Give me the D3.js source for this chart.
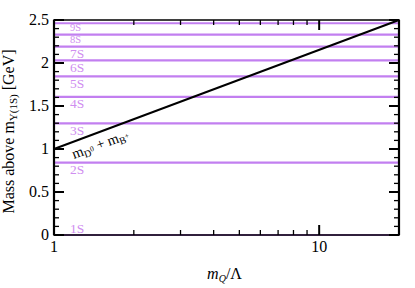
<!DOCTYPE html>
<html>
<head>
<meta charset="utf-8">
<script src="https://cdn.jsdelivr.net/npm/d3@7"></script>
<style>
  body { margin: 0; background: #fff; }
  svg text { font-family: "Liberation Serif", "DejaVu Serif", "Times New Roman", Times, serif; }
</style>
</head>
<body>
<div id="chart"></div>
<script>
// Bottomonium levels above the Upsilon(1S), GeV
var levelNames = ["1S", "2S", "3S", "4S", "5S", "6S", "7S", "8S", "9S"];
var levelMass = [0, 0.841, 1.299, 1.605, 1.845, 2.031, 2.19, 2.329, 2.462];

// Threshold line m_D0 + m_B+
var threshX = [1, 20];
var threshY = [1.0, 2.5];

var xTicks = [1, 10];
var yTicks = [0, 0.5, 1, 1.5, 2, 2.5];

var W = 415, H = 288;
var margin = {top: 20, right: 16, bottom: 53, left: 54},
    width = W - margin.left - margin.right,
    height = H - margin.top - margin.bottom;

var svg = d3.select("#chart")
  .append("svg")
    .attr("width", W)
    .attr("height", H)
    .attr("font-family", "Liberation Serif, DejaVu Serif, serif")
  .append("g")
    .attr("transform", "translate(" + margin.left + "," + margin.top + ")");

var x = d3.scaleLog().domain([1, 20]).range([0, width]);
var y = d3.scaleLinear().domain([0, 2.5]).range([height, 0]);

var purple = "#c27ff0";
var labelPurple = "#cf8ef0";

// Horizontal level lines
svg.selectAll(".level")
  .data(levelMass)
  .enter().append("line")
    .attr("class", "level")
    .attr("x1", x(1))
    .attr("x2", x(20))
    .attr("y1", function(d) { return y(d); })
    .attr("y2", function(d) { return y(d); })
    .attr("stroke", purple)
    .attr("stroke-width", 2.2);

// Level labels (smaller where the levels crowd together)
function crowded(i) {
  return i > 0 && y(levelMass[i - 1]) - y(levelMass[i]) < 13;
}
svg.selectAll(".lvlabel")
  .data(levelNames)
  .enter().append("text")
    .attr("class", "lvlabel")
    .attr("x", x(1) + 16)
    .attr("y", function(d, i) {
      if (i === 0) return y(levelMass[i]) - 2;
      return y(levelMass[i]) + (crowded(i) ? 8 : 11.5);
    })
    .attr("fill", labelPurple)
    .style("font-size", function(d, i) { return (crowded(i) ? 10.5 : 13.5) + "px"; })
    .text(function(d) { return d; });

// Threshold line
var thresh = threshX.map(function(v, i) { return {x: v, y: threshY[i]}; });
svg.append("path")
  .datum(thresh)
  .attr("fill", "none")
  .attr("stroke", "#000")
  .attr("stroke-width", 2)
  .attr("d", d3.line()
    .x(function(d) { return x(d.x); })
    .y(function(d) { return y(d.y); }));

// Threshold label, rotated along the line
var ang = Math.atan2(y(threshY[1]) - y(threshY[0]), x(threshX[1]) - x(threshX[0])) * 180 / Math.PI;
var lx = x(1) + 15, ly = y(threshY[0]) - 3;
var tl = svg.append("text")
  .attr("transform", "translate(" + lx + "," + ly + ") rotate(" + ang + ")")
  .attr("y", 14)
  .style("font-size", "14.5px")
  .attr("fill", "#000");
tl.append("tspan").text("m");
tl.append("tspan").attr("dy", 3).style("font-size", "10px").text("D");
tl.append("tspan").attr("dy", -4).style("font-size", "7.5px").text("0");
tl.append("tspan").attr("dy", 1).text(" + m");
tl.append("tspan").attr("dy", 3).style("font-size", "10px").text("B");
tl.append("tspan").attr("dy", -4).style("font-size", "7.5px").text("+");

// Frame
svg.append("rect")
  .attr("width", width)
  .attr("height", height)
  .attr("fill", "none")
  .attr("stroke", "#000")
  .attr("stroke-width", 1.5);
svg.append("line").attr("x1", 0).attr("x2", 0).attr("y1", 0).attr("y2", height)
  .attr("stroke", "#000").attr("stroke-width", 2.2);
svg.append("line").attr("x1", width).attr("x2", width).attr("y1", 0).attr("y2", height)
  .attr("stroke", "#000").attr("stroke-width", 2.2);

// Y ticks (inward, both sides)
var yMinor = d3.range(0, 2.501, 0.1);
function isMajorY(d) { return Math.abs(d * 2 - Math.round(d * 2)) < 1e-6; }
[0, width].forEach(function(x0) {
  var dir = x0 === 0 ? 1 : -1;
  svg.selectAll(null)
    .data(yMinor)
    .enter().append("line")
      .attr("x1", x0)
      .attr("x2", function(d) { return x0 + dir * (isMajorY(d) ? 10 : 5); })
      .attr("y1", function(d) { return y(d); })
      .attr("y2", function(d) { return y(d); })
      .attr("stroke", "#000")
      .attr("stroke-width", function(d) { return isMajorY(d) ? 2 : 1.3; });
});

// X ticks (inward, top and bottom)
var xMinor = [2, 3, 4, 5, 6, 7, 8, 9, 10];
[0, height].forEach(function(y0) {
  var dir = y0 === 0 ? 1 : -1;
  svg.selectAll(null)
    .data(xMinor)
    .enter().append("line")
      .attr("x1", function(d) { return x(d); })
      .attr("x2", function(d) { return x(d); })
      .attr("y1", y0)
      .attr("y2", function(d) { return y0 + dir * (d === 10 ? 10 : 5); })
      .attr("stroke", "#000")
      .attr("stroke-width", function(d) { return d === 10 ? 2 : 1.3; });
});

// Tick labels
svg.selectAll(".ylab")
  .data(yTicks)
  .enter().append("text")
    .attr("class", "ylab")
    .attr("x", -5)
    .attr("y", function(d) { return y(d) + 5; })
    .attr("text-anchor", "end")
    .style("font-size", "16px")
    .text(function(d) { return d; });

svg.selectAll(".xlab")
  .data(xTicks)
  .enter().append("text")
    .attr("class", "xlab")
    .attr("x", function(d) { return x(d); })
    .attr("y", height + 17)
    .attr("text-anchor", "middle")
    .style("font-size", "16px")
    .text(function(d) { return d; });

// Axis titles
var yl = svg.append("text")
  .attr("transform", "translate(" + (-40) + "," + (height / 2 + 4) + ") rotate(-90)")
  .attr("text-anchor", "middle")
  .style("font-size", "16px");
yl.append("tspan").text("Mass above m");
yl.append("tspan").attr("dy", 3).style("font-size", "11px").text("\u03A5(1S)");
yl.append("tspan").attr("dy", -3).text(" [GeV]");

var xl = svg.append("text")
  .attr("x", x(Math.sqrt(20)) - 2)
  .attr("y", height + 44)
  .attr("text-anchor", "middle")
  .style("font-size", "16px");
xl.append("tspan").style("font-style", "italic").text("m");
xl.append("tspan").attr("dy", 3).style("font-style", "italic").style("font-size", "10px").text("Q");
xl.append("tspan").attr("dy", -3).text("/\u039B");
</script>
</body>
</html>
